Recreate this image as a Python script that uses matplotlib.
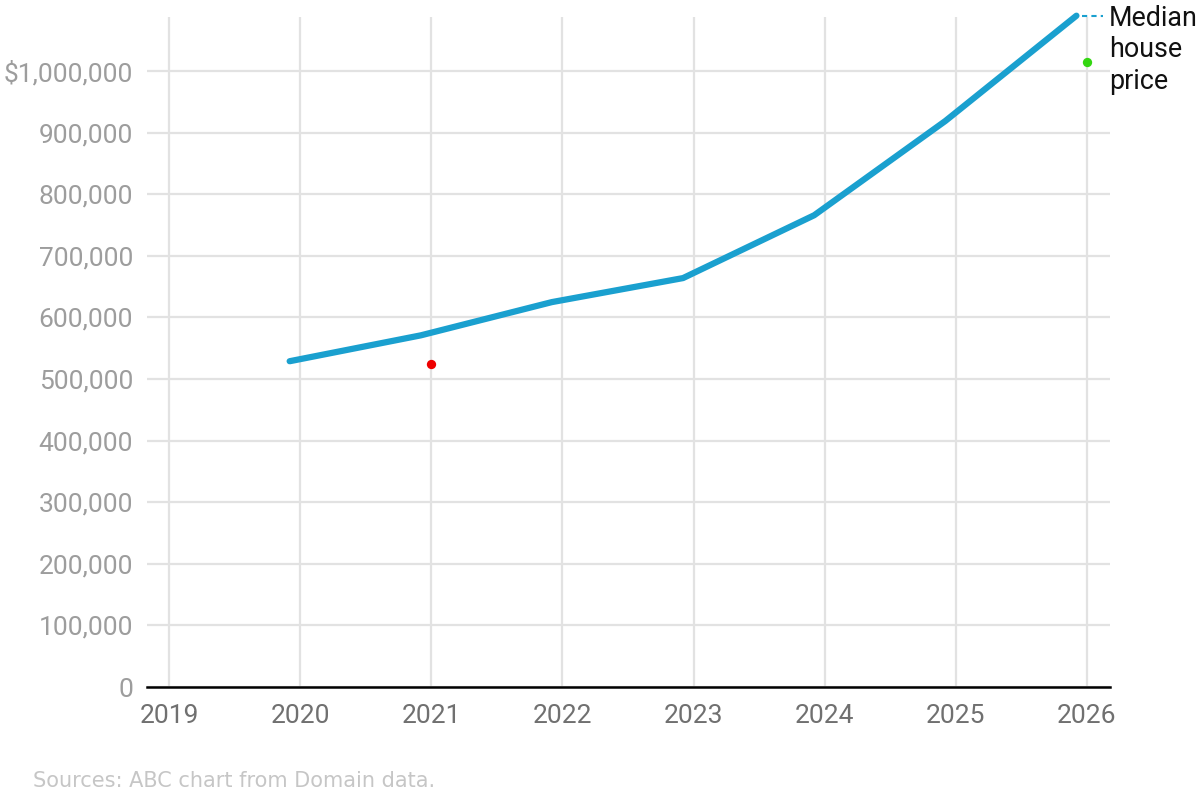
import matplotlib.pyplot as plt
import matplotlib.ticker as mticker

# Median house price (end of each year)
dates = [2019.92, 2020.92, 2021.92, 2022.92, 2023.92, 2024.92, 2025.92]
prices = [529000, 571000, 625000, 664000, 766000, 919000, 1090000]

red_x, red_y = [2021.0], [524000]
green_x, green_y = [2026.0], [1015000]

years = [2019, 2020, 2021, 2022, 2023, 2024, 2025, 2026]
yticks = list(range(0, 1000001, 100000))

plt.rcParams['font.family'] = ['Roboto', 'DejaVu Sans']

fig = plt.figure(figsize=(12, 8.06), dpi=100)
ax = fig.add_axes([0.1225, 0.1476, 0.8025, 0.8314])

line_col = '#1aa0cf'
ax.plot(dates, prices, color=line_col, linewidth=4.5, solid_capstyle='round',
        solid_joinstyle='round', clip_on=False, zorder=3)
ax.scatter(red_x, red_y, s=45, color='#ee0000', zorder=4, linewidths=0)
ax.scatter(green_x, green_y, s=45, color='#33d611', zorder=4, linewidths=0, clip_on=False)

# label next to the end of the line
ax.plot([dates[-1] + 0.04, dates[-1] + 0.2], [prices[-1], prices[-1]], color=line_col,
        linewidth=1.5, linestyle=(0, (2.5, 2)), clip_on=False)
ax.text(dates[-1] + 0.25, prices[-1] + 17000, 'Median\nhouse\nprice', fontsize=19.4,
        va='top', ha='left', linespacing=1.2, color='#111111')

ax.set_xlim(2018.832, 2026.176)
ax.set_ylim(0, 1088000)
ax.set_xticks(years)
ax.set_yticks(yticks)
ax.yaxis.set_major_formatter(mticker.FuncFormatter(
    lambda v, p: f'${v:,.0f}' if v == 1000000 else f'{v:,.0f}'))

ax.grid(True, color='#e2e2e2', linewidth=1.6)
ax.set_axisbelow(True)
for s in ['top', 'right', 'left']:
    ax.spines[s].set_visible(False)
ax.spines['bottom'].set_color('black')
ax.spines['bottom'].set_linewidth(1.8)
ax.spines['bottom'].set_zorder(2)

ax.tick_params(axis='y', length=0, pad=10, labelsize=19, labelcolor='#9d9d9d')
ax.tick_params(axis='x', length=0, pad=12, labelsize=19, labelcolor='#707070')

fig.text(0.0275, 0.024, 'Sources: ABC chart from Domain data.', fontsize=15,
         color='#c6c6c6', family='DejaVu Sans')

fig.savefig('out.png', dpi=100, facecolor='white')
